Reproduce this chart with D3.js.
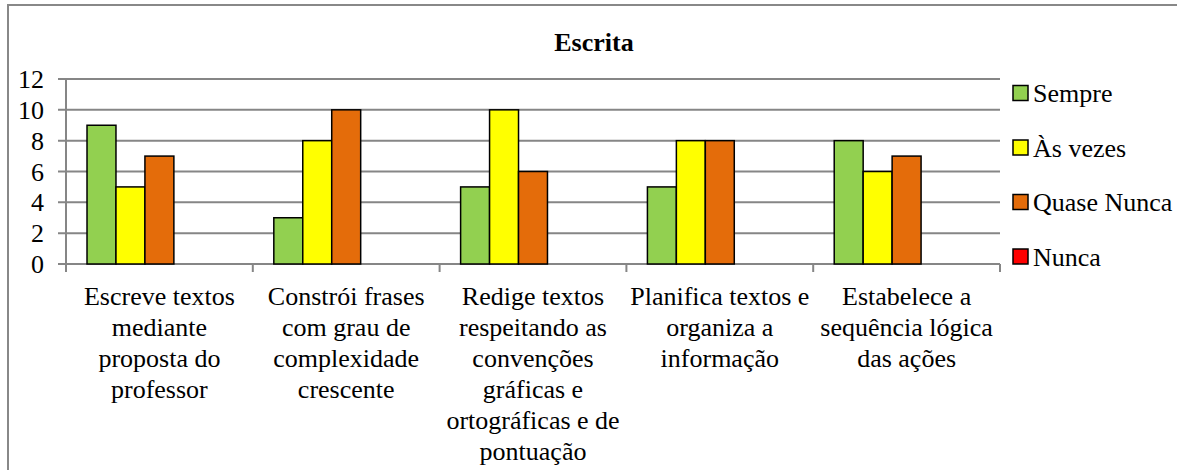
<!DOCTYPE html>
<html>
<head>
<meta charset="utf-8">
<script src="https://cdn.jsdelivr.net/npm/d3@7"></script>
<style>
  body { margin: 0; background: #fff; }
  svg text { font-family: 'Liberation Serif' !important; }
</style>
</head>
<body>
<div id="chart"></div>
<script>
// data
var categories = ["Escreve textos mediante proposta do professor",
                  "Constrói frases com grau de complexidade crescente",
                  "Redige textos respeitando as convenções gráficas e ortográficas e de pontuação",
                  "Planifica textos e organiza a informação",
                  "Estabelece a sequência lógica das ações"];
var categoryLines = [
    ["Escreve textos", "mediante", "proposta do", "professor"],
    ["Constrói frases", "com grau de", "complexidade", "crescente"],
    ["Redige textos", "respeitando as", "convenções", "gráficas e", "ortográficas e de", "pontuação"],
    ["Planifica textos e", "organiza a", "informação"],
    ["Estabelece a", "sequência lógica", "das ações"]
];
var seriesNames = ["Sempre", "Às vezes", "Quase Nunca", "Nunca"];
var sempre     = [9, 3, 5, 5, 8];
var asVezes    = [5, 8, 10, 8, 6];
var quaseNunca = [7, 10, 6, 8, 7];
var nunca      = [0, 0, 0, 0, 0];
var yTicks = [0, 2, 4, 6, 8, 10, 12];
var colours = ["#92D050", "#FFFF00", "#E46C0A", "#FF0000"];

var seriesValues = [sempre, asVezes, quaseNunca, nunca];

var width = 1177, height = 470;
var plot = { left: 66, right: 1000, top: 79, bottom: 264 };
var fontFam = "Liberation Serif";

var svg = d3.select('#chart').append('svg')
    .attr('width', width)
    .attr('height', height)
    .attr('font-family', fontFam);

// chart frame (right and bottom edges fall outside the picture)
svg.append('rect')
    .attr('x', 8).attr('y', 5)
    .attr('width', 1173).attr('height', 480)
    .attr('fill', '#fff')
    .attr('stroke', '#888')
    .attr('stroke-width', 2);

svg.append('text')
    .attr('x', 594).attr('y', 51)
    .attr('text-anchor', 'middle')
    .attr('font-family', fontFam)
    .attr('font-size', 26)
    .attr('font-weight', 'bold')
    .text('Escrita');

var x0 = d3.scaleBand()
    .domain(categories)
    .range([plot.left, plot.right])
    .padding(0);

// excel style: gap of ~22% of the band, room for 5 bar slots
var gapFrac = 0.225;
var barW = x0.bandwidth() * (1 - gapFrac) / 5;
var x1 = d3.scaleBand()
    .domain(seriesNames)
    .range([0, barW * seriesNames.length]);

var y = d3.scaleLinear()
    .domain([0, 12])
    .range([plot.bottom, plot.top]);

// gridlines
svg.append('g').selectAll('line')
    .data(yTicks)
    .enter().append('line')
    .attr('x1', plot.left - 8)
    .attr('x2', plot.right)
    .attr('y1', function(d) { return y(d); })
    .attr('y2', function(d) { return y(d); })
    .attr('stroke', '#868686')
    .attr('stroke-width', 2);

// y axis line
svg.append('line')
    .attr('x1', plot.left).attr('x2', plot.left)
    .attr('y1', plot.top).attr('y2', plot.bottom)
    .attr('stroke', '#868686')
    .attr('stroke-width', 2);

// y tick labels
svg.append('g').selectAll('text')
    .data(yTicks)
    .enter().append('text')
    .attr('x', 44)
    .attr('y', function(d) { return y(d) + 9; })
    .attr('text-anchor', 'end')
    .attr('font-family', fontFam)
    .attr('font-size', 26)
    .text(function(d) { return d; });

// category ticks
var catEdges = categories.map(function(c) { return x0(c); }).concat([plot.right]);
svg.append('g').selectAll('line')
    .data(catEdges)
    .enter().append('line')
    .attr('x1', function(d) { return d; })
    .attr('x2', function(d) { return d; })
    .attr('y1', plot.bottom)
    .attr('y2', plot.bottom + 8)
    .attr('stroke', '#868686')
    .attr('stroke-width', 2);

// bars
var groups = svg.append('g').selectAll('g')
    .data(categories)
    .enter().append('g')
    .attr('transform', function(c) { return 'translate(' + (x0(c) + x0.bandwidth() * gapFrac / 2) + ',0)'; });

groups.selectAll('rect')
    .data(function(c, i) {
        return seriesNames.map(function(s, j) { return { series: s, value: seriesValues[j][i], colour: colours[j] }; });
    })
    .enter().append('rect')
    .attr('x', function(d) { return x1(d.series); })
    .attr('width', x1.bandwidth())
    .attr('y', function(d) { return y(d.value); })
    .attr('height', function(d) { return y(0) - y(d.value); })
    .attr('fill', function(d) { return d.colour; })
    .attr('stroke', function(d) { return d.value > 0 ? '#000' : 'none'; })
    .attr('stroke-width', 1.5);

// category labels
svg.append('g').selectAll('text')
    .data(categories)
    .enter().append('text')
    .attr('text-anchor', 'middle')
    .attr('font-family', fontFam)
    .attr('font-size', 26)
    .each(function(c, i) {
        var t = d3.select(this);
        categoryLines[i].forEach(function(line, k) {
            t.append('tspan')
                .attr('x', x0(c) + x0.bandwidth() / 2)
                .attr('y', 305 + k * 31)
                .text(line);
        });
    });

// legend
var legend = svg.append('g').selectAll('g')
    .data(seriesNames)
    .enter().append('g')
    .attr('transform', function(d, i) { return 'translate(1013,' + (93 + i * 54.5) + ')'; });

legend.append('rect')
    .attr('x', 0).attr('y', -7.5)
    .attr('width', 15).attr('height', 15)
    .attr('fill', function(d, i) { return colours[i]; })
    .attr('stroke', '#000')
    .attr('stroke-width', 1.5);

legend.append('text')
    .attr('x', 20)
    .attr('y', 9)
    .attr('font-family', fontFam)
    .attr('font-size', 26)
    .text(function(d) { return d; });
</script>
</body>
</html>
